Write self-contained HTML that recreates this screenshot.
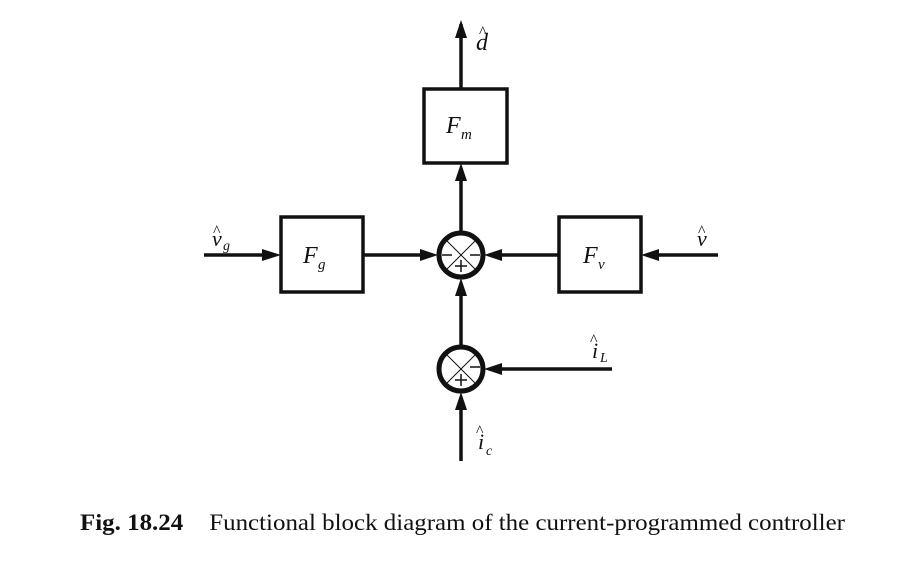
<!DOCTYPE html>
<html><head><style>body{margin:0;background:#fff}svg{display:block}</style></head><body>
<svg width="909" height="565" viewBox="0 0 909 565" xmlns="http://www.w3.org/2000/svg" font-family="Liberation Serif, serif">
<g stroke="#111" stroke-width="3.5" fill="none">
<rect x="424" y="89" width="83" height="74"/>
<rect x="281" y="217" width="82" height="75"/>
<rect x="559" y="217" width="82" height="75"/>
</g>
<g stroke="#111" stroke-width="3.5">
<line x1="461" y1="89" x2="461" y2="24"/><path d="M455,38 L461,20 L467,38z" fill="#111" stroke="none"/>
<line x1="461" y1="232" x2="461" y2="170"/><path d="M455,181 L461,163 L467,181z" fill="#111" stroke="none"/>
<line x1="204" y1="255" x2="265" y2="255"/><path d="M262,249 L281,255 L262,261z" fill="#111" stroke="none"/>
<line x1="363" y1="255" x2="424" y2="255"/><path d="M420,249 L438,255 L420,261z" fill="#111" stroke="none"/>
<line x1="718" y1="255" x2="655" y2="255"/><path d="M659,249 L641,255 L659,261z" fill="#111" stroke="none"/>
<line x1="559" y1="255" x2="498" y2="255"/><path d="M502,249 L484,255 L502,261z" fill="#111" stroke="none"/>
<line x1="461" y1="346" x2="461" y2="292"/><path d="M455,296 L461,278 L467,296z" fill="#111" stroke="none"/>
<line x1="612" y1="369" x2="498" y2="369"/><path d="M502,363 L484,369 L502,375z" fill="#111" stroke="none"/>
<line x1="461" y1="461" x2="461" y2="405"/><path d="M455,410 L461,392 L467,410z" fill="#111" stroke="none"/>
</g>
<g stroke="#111">
<circle cx="461" cy="255" r="22" fill="#fff" stroke-width="5"/>
<line x1="445" y1="239" x2="477" y2="271" stroke-width="1"/><line x1="477" y1="239" x2="445" y2="271" stroke-width="1"/>
<circle cx="461" cy="369" r="22" fill="#fff" stroke-width="5"/>
<line x1="445" y1="353" x2="477" y2="385" stroke-width="1"/><line x1="477" y1="353" x2="445" y2="385" stroke-width="1"/>
<g stroke-width="1.5">
<line x1="442" y1="255" x2="452" y2="255"/><line x1="470" y1="255" x2="480" y2="255"/>
<line x1="455" y1="266" x2="467" y2="266"/><line x1="461" y1="260" x2="461" y2="272"/>
<line x1="470" y1="367" x2="480" y2="367"/>
<line x1="455" y1="380" x2="467" y2="380"/><line x1="461" y1="374" x2="461" y2="386"/>
</g>
</g>
<g font-style="italic" fill="#111">
<text x="446" y="133" font-size="24">F</text><text x="461" y="139" font-size="15">m</text>
<text x="303" y="263" font-size="24">F</text><text x="318" y="269" font-size="15">g</text>
<text x="583" y="263" font-size="24">F</text><text x="598" y="269" font-size="15">v</text>
<text x="476" y="50" font-size="24">d</text><text x="479" y="37" font-size="16" font-style="normal">^</text>
<text x="212" y="246" font-size="22">v</text><text x="213" y="236" font-size="16" font-style="normal">^</text><text x="223" y="250" font-size="14">g</text>
<text x="697" y="246" font-size="22">v</text><text x="698" y="236" font-size="16" font-style="normal">^</text>
<text x="592" y="358" font-size="22">i</text><text x="590" y="345" font-size="16" font-style="normal">^</text><text x="600" y="362" font-size="14">L</text>
<text x="478" y="449" font-size="22">i</text><text x="476" y="436" font-size="16" font-style="normal">^</text><text x="486" y="455" font-size="14">c</text>
</g>
<text x="80" y="530" font-size="23" fill="#111" textLength="765" lengthAdjust="spacingAndGlyphs"><tspan font-weight="bold">Fig. 18.24</tspan><tspan dx="24">Functional block diagram of the current-programmed controller</tspan></text>
</svg>
</body></html>
